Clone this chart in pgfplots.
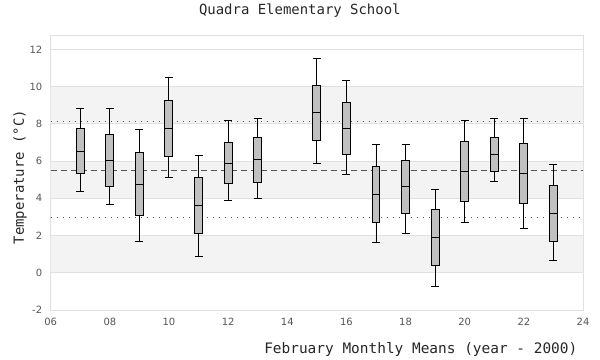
\documentclass[border=0pt]{standalone}
\usepackage{pgfplots}
\pgfplotsset{compat=1.18}
\usepgfplotslibrary{statistics}
\usepackage{fontspec}
\setmainfont{DejaVu Sans}
\newfontfamily\monofont{DejaVu Sans Mono}
\definecolor{bandgray}{HTML}{F3F3F3}
\definecolor{gridgray}{HTML}{E0E0E0}
\definecolor{boxgray}{HTML}{C0C0C0}
\definecolor{refgray}{HTML}{555555}
\definecolor{ticktext}{HTML}{555555}
\begin{document}
\begin{tikzpicture}
\path[use as bounding box] (0,0) rectangle (600bp,360bp);
\begin{axis}[
  at={(50.7bp,50bp)}, anchor=south west,
  scale only axis, width=532.3bp, height=274.6bp,
  xmin=6, xmax=24, ymin=-2, ymax=12.75,
  xtick={6,8,...,24}, xticklabels={06,08,10,12,14,16,18,20,22,24},
  ytick={-2,0,...,12}, yticklabels={-2,0,2,4,6,8,10,12},
  major tick length=0,
  axis line style={gridgray, line width=0.8pt},
  tick label style={font=\fontsize{10}{12}\selectfont, text=ticktext},
  xticklabel style={yshift=-5bp},
  yticklabel style={xshift=-5bp},
  title={\monofont\fontsize{14}{16}\selectfont Quadra Elementary School},
  title style={at={(axis description cs:0.468,1.067)}, anchor=center, text=black!85},
  xlabel={\monofont\fontsize{14.5}{16}\selectfont February Monthly Means (year - 2000)},
  xlabel style={at={(axis description cs:0.996,-0.142)}, anchor=east, text=black!85},
  ylabel={\monofont\fontsize{14}{16}\selectfont Temperature (°C)},
  ylabel style={at={(axis description cs:-0.0577,0.484)}, anchor=center, text=black!85},
  clip=false,
  boxplot/draw direction=y,
  boxplot/box extend=0.27,
  boxplot/whisker extend=0.27,
  bx/.style={draw=black, fill=boxgray, line width=1pt, solid},
  gl/.style={gridgray, line width=0.8pt, forget plot},
]
% background bands
\addplot[fill=bandgray, draw=none, forget plot] coordinates {(6,0) (24,0) (24,2) (6,2) (6,0)};
\addplot[fill=bandgray, draw=none, forget plot] coordinates {(6,4) (24,4) (24,6) (6,6) (6,4)};
\addplot[fill=bandgray, draw=none, forget plot] coordinates {(6,8) (24,8) (24,10) (6,10) (6,8)};
% grid lines
\addplot[gl] coordinates {(6,0) (24,0)};
\addplot[gl] coordinates {(6,2) (24,2)};
\addplot[gl] coordinates {(6,4) (24,4)};
\addplot[gl] coordinates {(6,6) (24,6)};
\addplot[gl] coordinates {(6,8) (24,8)};
\addplot[gl] coordinates {(6,10) (24,10)};
\addplot[gl] coordinates {(6,12) (24,12)};
% reference lines
\addplot[refgray, line width=0.8pt, dash pattern=on 1.6bp off 4.4bp, forget plot] coordinates {(6,8.14) (24,8.14)};
\addplot[refgray, line width=0.8pt, dash pattern=on 6bp off 4bp, forget plot] coordinates {(6,5.49) (24,5.49)};
\addplot[refgray, line width=0.8pt, dash pattern=on 1.6bp off 4.4bp, forget plot] coordinates {(6,2.98) (24,2.98)};
% boxes
\addplot[bx, boxplot prepared={draw position=7, lower whisker=4.37, lower quartile=5.34, median=6.53, upper quartile=7.76, upper whisker=8.84}] coordinates {};
\addplot[bx, boxplot prepared={draw position=8, lower whisker=3.69, lower quartile=4.66, median=6.04, upper quartile=7.44, upper whisker=8.84}] coordinates {};
\addplot[bx, boxplot prepared={draw position=9, lower whisker=1.69, lower quartile=3.10, median=4.75, upper quartile=6.45, upper whisker=7.71}] coordinates {};
\addplot[bx, boxplot prepared={draw position=10, lower whisker=5.13, lower quartile=6.25, median=7.76, upper quartile=9.27, upper whisker=10.50}] coordinates {};
\addplot[bx, boxplot prepared={draw position=11, lower whisker=0.88, lower quartile=2.11, median=3.62, upper quartile=5.13, upper whisker=6.31}] coordinates {};
\addplot[bx, boxplot prepared={draw position=12, lower whisker=3.89, lower quartile=4.81, median=5.88, upper quartile=7.01, upper whisker=8.19}] coordinates {};
\addplot[bx, boxplot prepared={draw position=13, lower whisker=4.00, lower quartile=4.85, median=6.11, upper quartile=7.28, upper whisker=8.30}] coordinates {};
\addplot[bx, boxplot prepared={draw position=15, lower whisker=5.88, lower quartile=7.08, median=8.59, upper quartile=10.07, upper whisker=11.53}] coordinates {};
\addplot[bx, boxplot prepared={draw position=16, lower whisker=5.29, lower quartile=6.36, median=7.76, upper quartile=9.16, upper whisker=10.34}] coordinates {};
\addplot[bx, boxplot prepared={draw position=17, lower whisker=1.62, lower quartile=2.70, median=4.21, upper quartile=5.72, upper whisker=6.90}] coordinates {};
\addplot[bx, boxplot prepared={draw position=18, lower whisker=2.11, lower quartile=3.19, median=4.64, upper quartile=6.04, upper whisker=6.90}] coordinates {};
\addplot[bx, boxplot prepared={draw position=19, lower whisker=-0.73, lower quartile=0.39, median=1.89, upper quartile=3.40, upper whisker=4.48}] coordinates {};
\addplot[bx, boxplot prepared={draw position=20, lower whisker=2.71, lower quartile=3.84, median=5.45, upper quartile=7.06, upper whisker=8.19}] coordinates {};
\addplot[bx, boxplot prepared={draw position=21, lower whisker=4.91, lower quartile=5.45, median=6.36, upper quartile=7.28, upper whisker=8.30}] coordinates {};
\addplot[bx, boxplot prepared={draw position=22, lower whisker=2.38, lower quartile=3.73, median=5.34, upper quartile=6.96, upper whisker=8.30}] coordinates {};
\addplot[bx, boxplot prepared={draw position=23, lower whisker=0.67, lower quartile=1.69, median=3.19, upper quartile=4.69, upper whisker=5.82}] coordinates {};
\end{axis}
\end{tikzpicture}
\end{document}
